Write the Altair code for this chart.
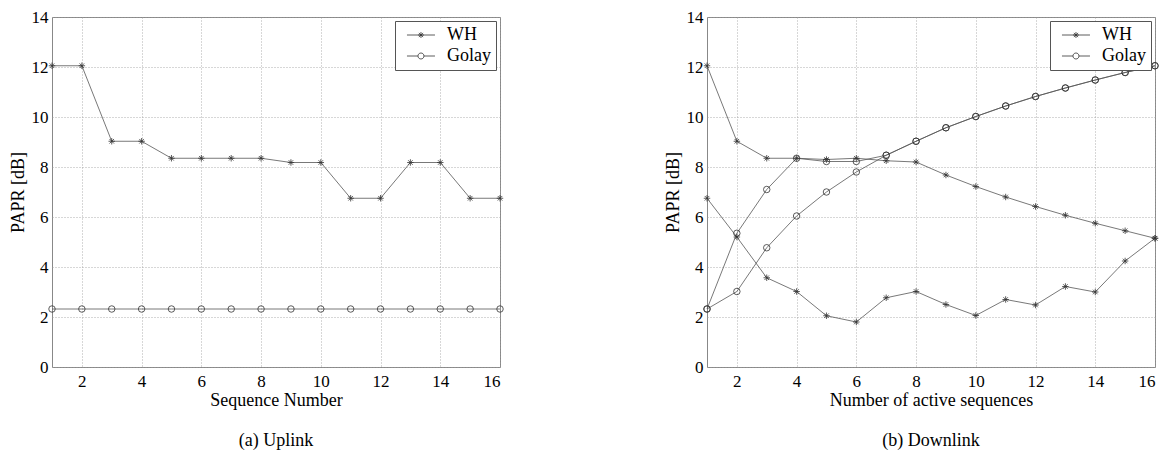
import altair as alt
import pandas as pd

FONT = "Liberation Serif"

x_vals = list(range(1, 17))
methods = ["WH", "Golay"]

# (a) Uplink
up_wh = [12.05, 12.05, 9.03, 9.03, 8.35, 8.35, 8.35, 8.35, 8.18, 8.18, 6.75, 6.75, 8.18, 8.18, 6.75, 6.75]
up_golay = [2.32, 2.32, 2.32, 2.32, 2.32, 2.32, 2.32, 2.32, 2.32, 2.32, 2.32, 2.32, 2.32, 2.32, 2.32, 2.32]

# (b) Downlink
dl_wh_a = [12.05, 9.03, 8.35, 8.35, 8.30, 8.35, 8.25, 8.20, 7.68, 7.22, 6.80, 6.42, 6.07, 5.75, 5.45, 5.15]
dl_wh_b = [6.75, 5.20, 3.57, 3.02, 2.05, 1.80, 2.77, 3.02, 2.50, 2.06, 2.70, 2.48, 3.22, 3.00, 4.24, 5.15]
dl_golay_a = [2.32, 5.35, 7.10, 8.35, 8.22, 8.22, 8.47, 9.03, 9.57, 10.02, 10.44, 10.82, 11.16, 11.48, 11.78, 12.05]
dl_golay_b = [2.32, 3.02, 4.77, 6.04, 7.00, 7.80, 8.47, 9.03, 9.57, 10.02, 10.44, 10.82, 11.16, 11.48, 11.78, 12.05]

x_ticks = [2, 4, 6, 8, 10, 12, 14, 16]
y_ticks = [0, 2, 4, 6, 8, 10, 12, 14]

marker_paths = [
    "M-1,0H1M0,-1V1M-0.7,-0.7L0.7,0.7M-0.7,0.7L0.7,-0.7",
    "circle",
]
# legend symbols: a line with the marker in its middle (unit = 7px at symbolSize 196)
legend_paths = [
    "M-0.29,0H3.71M1.71,-0.43V0.43M1.28,0H2.14M1.41,-0.3L2.01,0.3M1.41,0.3L2.01,-0.3",
    "M-0.29,0H1.28M2.14,0H3.71M2.14,0A0.43,0.43,0,1,1,1.28,0A0.43,0.43,0,1,1,2.14,0",
]


def frame(series):
    rows = []
    for method, curve, vals in series:
        for xv, v in zip(x_vals, vals):
            rows.append({"x": xv, "value": v, "method": method, "curve": curve})
    return pd.DataFrame(rows)


def panel(df, xtitle, caption):
    base = alt.Chart(df)
    x = alt.X("x:Q", scale=alt.Scale(domain=[1, 16], nice=False, zero=False),
              axis=alt.Axis(values=x_ticks, title=xtitle, labelPadding=6, titlePadding=2))
    y = alt.Y("value:Q", scale=alt.Scale(domain=[0, 14], nice=False),
              axis=alt.Axis(values=y_ticks, title="PAPR [dB]", labelPadding=4, titlePadding=4))
    lines = base.mark_line(color="#555555", strokeWidth=0.8).encode(x=x, y=y, detail="curve:N")
    pts = base.mark_point(filled=False, color="#333333", strokeWidth=0.8, size=42, opacity=1).encode(
        x=x, y=y,
        shape=alt.Shape("method:N", scale=alt.Scale(domain=methods, range=marker_paths), legend=None),
    )
    leg = base.transform_filter("false").mark_point(filled=False, color="#333333", strokeWidth=0.8, opacity=1).encode(
        shape=alt.Shape(
            "method:N",
            scale=alt.Scale(domain=methods, range=legend_paths),
            legend=alt.Legend(
                title=None, orient="top-right", offset=4, padding=5,
                strokeColor="#555555", fillColor="white", cornerRadius=0,
                symbolSize=196, symbolStrokeWidth=0.8, symbolStrokeColor="#333333",
                symbolFillColor="transparent", symbolOpacity=1,
                labelFont=FONT, labelFontSize=18, labelColor="black", labelOffset=29,
                rowPadding=3,
            ),
        )
    )
    return alt.layer(lines, pts, leg).resolve_scale(shape="independent").properties(
        width=448, height=350,
        title=alt.TitleParams(caption, orient="bottom", anchor="middle", frame="group",
                              font=FONT, fontSize=18, fontWeight="normal", color="black", offset=23),
    )


df_up = frame([("WH", "wh", up_wh), ("Golay", "golay", up_golay)])
df_dl = frame([("WH", "wh_a", dl_wh_a), ("WH", "wh_b", dl_wh_b),
               ("Golay", "golay_a", dl_golay_a), ("Golay", "golay_b", dl_golay_b)])

left = panel(df_up, "Sequence Number", "(a)  Uplink")
right = panel(df_dl, "Number of active sequences", "(b)  Downlink")

chart = alt.hconcat(left, right, spacing=157).resolve_scale(shape="independent").resolve_legend(
    shape="independent"
).properties(
    padding={"left": 0, "top": -1, "right": 0, "bottom": 0},
    background="white",
).configure_view(
    stroke="#888888", strokeWidth=1
).configure_axis(
    domain=False, tickSize=0, grid=True, gridDash=[1, 2], gridColor="#999999", gridWidth=0.8,
    labelFont=FONT, labelFontSize=17, labelColor="black",
    titleFont=FONT, titleFontSize=18, titleFontWeight="normal", titleColor="black",
).configure_title(
    font=FONT, fontSize=18, fontWeight="normal", color="black"
)

chart.save("out.html", embed_options={"renderer": "svg", "actions": False})
